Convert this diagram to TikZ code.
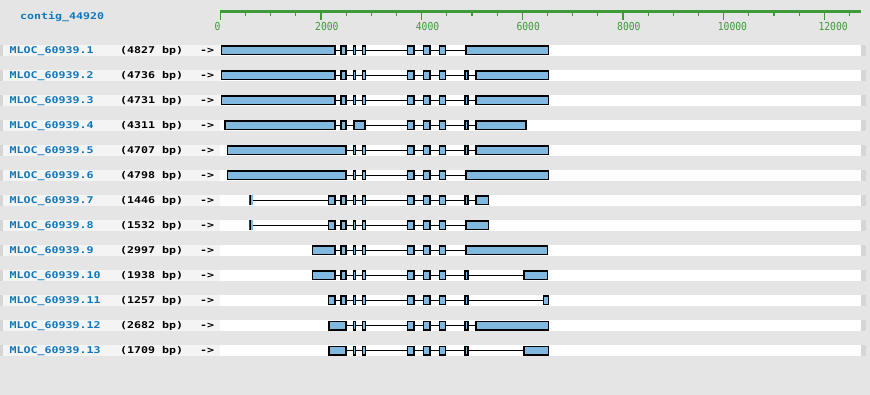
\documentclass[tikz,border=0pt]{standalone}
\usepackage{xcolor}
\usepackage{fontspec}
\usepackage{tikz}
\usetikzlibrary{positioning}
\newfontfamily\genefont[FakeStretch=1.25]{DejaVu Sans Mono Bold}
\newfontfamily\rulerfont[FakeStretch=0.88]{DejaVu Sans Mono}
\definecolor{Canvas}{HTML}{E5E5E5}
\definecolor{Band}{HTML}{F4F4F4}
\definecolor{BandEdge}{HTML}{D6D6D6}
\definecolor{Link}{HTML}{1177BB}
\definecolor{Ruler}{HTML}{3F9B3A}
\definecolor{Exon}{HTML}{80B8E0}
\tikzset{
  exonbox/.style={draw=black, line width=1.6pt, fill=Exon, rectangle, inner sep=0pt, minimum height=8.4pt},
  stubexon/.style={fill=Exon, rectangle, inner sep=0pt, outer sep=0pt, minimum width=3.4pt, minimum height=10pt,
    path picture={\draw[line width=2.8pt] (path picture bounding box.north west) -- (path picture bounding box.south west);}},
  intron/.style={draw=black, line width=1.8pt},
  genename/.style={anchor=base west, inner sep=0pt, text=Link, font=\genefont\fontsize{9.3}{10}\selectfont},
  genelen/.style={genename, text=black},
  ruleline/.style={draw=Ruler, line width=2.7pt},
  majortick/.style={draw=Ruler, line width=1.2pt},
  minortick/.style={draw=Ruler, line width=1.1pt},
  ticklabel/.style={anchor=base west, inner sep=0pt, text=Ruler, font=\rulerfont\fontsize{11}{12}\selectfont}
}

\begin{document}
\begin{tikzpicture}[x=1pt, y=-1pt]
  \useasboundingbox (0,0) rectangle (870,395);
  \fill[Canvas] (0,0) rectangle (870,395);
  \node[genename] (contig) at (20,20) {contig\_44920};
  \draw[ruleline] (220,11.3) -- (860.7,11.3);
  \foreach \b in {0,500,...,12500}
    \draw[minortick] ({220.3+\b*0.050333},11.3) -- ++(0,4.4);
  \foreach \b in {0,2000,...,12000} {
    \draw[majortick] ({220.3+\b*0.050333},11.3) -- ++(0,8.7);
    \node[ticklabel] (tick\b) at ({214.3+\b*0.050333},31) {\b};
  }
  \foreach \row/\len/\exons in {
    1/4827/{220.7/336, 340.3/347, 352.7/356.3, 361.7/366.3, 406.7/415, 422.7/431, 438.7/446.3, 465/549.3},
    2/4736/{220.7/336, 340.3/347, 352.7/356.3, 361.7/366.3, 406.7/415, 422.7/431, 438.7/446.3, 464.3/469, 475/549.3},
    3/4731/{220.7/336, 340.3/347, 352.7/356.3, 361.7/366.3, 406.7/415, 422.7/431, 438.7/446.3, 464.3/469, 475/549.3},
    4/4311/{224.3/336, 340.3/347, 353.3/366, 406.7/415, 422.7/431, 438.7/446.3, 464.3/469, 475/526.7},
    5/4707/{226.7/347, 352.7/356.3, 361.7/366.3, 406.7/415, 422.7/431, 438.7/446.3, 464.3/469, 475/549.3},
    6/4798/{226.7/347, 352.7/356.3, 361.7/366.3, 406.7/415, 422.7/431, 438.7/446.3, 465/549.3},
    7/1446/{327.7/336, 340.3/347, 352.7/356.3, 361.7/366.3, 406.7/415, 422.7/431, 438.7/446.3, 464.3/469, 475/489.3},
    8/1532/{327.7/336, 340.3/347, 352.7/356.3, 361.7/366.3, 406.7/415, 422.7/431, 438.7/446.3, 465/489.3},
    9/2997/{311.7/336, 340.3/347, 352.7/356.3, 361.7/366.3, 406.7/415, 422.7/431, 438.7/446.3, 465/548.3},
    10/1938/{311.7/336, 340.3/347, 352.7/356.3, 361.7/366.3, 406.7/415, 422.7/431, 438.7/446.3, 464.3/469, 523.3/548.3},
    11/1257/{327.7/336, 340.3/347, 352.7/356.3, 361.7/366.3, 406.7/415, 422.7/431, 438.7/446.3, 464.3/469, 542.7/549.3},
    12/2682/{328.3/347, 352.7/356.3, 361.7/366.3, 406.7/415, 422.7/431, 438.7/446.3, 464.3/469, 475/549.3},
    13/1709/{328.3/347, 352.7/356.3, 361.7/366.3, 406.7/415, 422.7/431, 438.7/446.3, 464.3/469, 523.3/549.3}} {
    \pgfmathsetmacro\y{50.5+25*(\row-1)}
    \fill[BandEdge] (0,\y-5.5) rectangle (3.3,\y+5.5);
    \fill[Band] (3.3,\y-5.5) rectangle (220,\y+5.5);
    \fill[white] (220,\y-5.5) rectangle (861,\y+5.5);
    \fill[BandEdge] (861,\y-5.5) rectangle (866,\y+5.5);
    \node[genename] (name\row) at (9.5,\y+3.4) {MLOC\_60939.\row};
    \node[genelen] (len\row) at (120,\y+3.4) {(\len\ bp)};
    \node[genelen] (dir\row) at (200,\y+3.4) {->};
    \foreach \l/\r [count=\k] in \exons {
      \node[exonbox, minimum width={\r pt-\l pt-1.6pt}] (e\row-\k) at ({(\l+\r)/2},\y) {};
      \ifnum\k>1
        \pgfmathtruncatemacro\prev{\k-1}
        \draw[intron] (e\row-\prev) -- (e\row-\k);
      \fi
    }
  }
  \node[stubexon] (stub7) at (251,200.5) {};
  \draw[intron] (stub7) -- (e7-1);
  \node[stubexon] (stub8) at (251,225.5) {};
  \draw[intron] (stub8) -- (e8-1);
\end{tikzpicture}
\end{document}
